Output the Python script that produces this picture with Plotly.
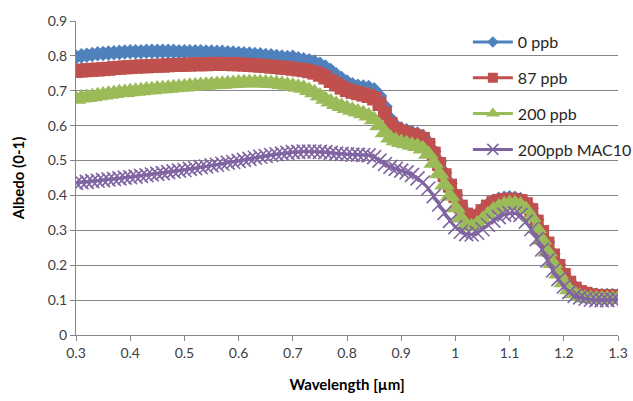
import plotly.graph_objects as go

wavelength = [round(0.30 + 0.01 * i, 2) for i in range(101)]

albedo_0ppb = [
    0.797, 0.800, 0.802, 0.804, 0.806, 0.807, 0.808, 0.809, 0.810, 0.811,
    0.812, 0.812, 0.812, 0.813, 0.813, 0.813, 0.813, 0.813, 0.813, 0.812,
    0.812, 0.812, 0.812, 0.812, 0.811, 0.811, 0.810, 0.810, 0.809, 0.808,
    0.807, 0.806, 0.805, 0.804, 0.803, 0.801, 0.800, 0.798, 0.797, 0.795,
    0.796, 0.792, 0.789, 0.786, 0.782, 0.776, 0.768, 0.758, 0.746, 0.735,
    0.725, 0.717, 0.713, 0.711, 0.709, 0.703, 0.685, 0.655, 0.620, 0.600,
    0.590, 0.585, 0.580, 0.576, 0.569, 0.552, 0.527, 0.497, 0.465, 0.434,
    0.403, 0.373, 0.350, 0.340, 0.345, 0.360, 0.373, 0.383, 0.389, 0.392,
    0.393, 0.392, 0.388, 0.379, 0.363, 0.330, 0.299, 0.266, 0.232, 0.202,
    0.176, 0.154, 0.137, 0.127, 0.120, 0.116, 0.114, 0.113, 0.113, 0.113,
    0.112,
]

albedo_87ppb = [
    0.757, 0.758, 0.759, 0.760, 0.761, 0.762, 0.763, 0.765, 0.766, 0.767,
    0.768, 0.769, 0.770, 0.770, 0.771, 0.772, 0.772, 0.773, 0.774, 0.774,
    0.775, 0.775, 0.776, 0.776, 0.776, 0.777, 0.777, 0.777, 0.777, 0.776,
    0.776, 0.775, 0.774, 0.773, 0.772, 0.771, 0.769, 0.768, 0.766, 0.765,
    0.763, 0.761, 0.759, 0.756, 0.752, 0.746, 0.738, 0.728, 0.718, 0.709,
    0.702, 0.697, 0.693, 0.689, 0.685, 0.678, 0.662, 0.635, 0.605, 0.590,
    0.583, 0.578, 0.573, 0.569, 0.562, 0.545, 0.520, 0.490, 0.458, 0.428,
    0.398, 0.368, 0.345, 0.335, 0.340, 0.355, 0.368, 0.378, 0.384, 0.387,
    0.388, 0.387, 0.384, 0.375, 0.358, 0.325, 0.295, 0.262, 0.228, 0.198,
    0.172, 0.150, 0.133, 0.123, 0.118, 0.114, 0.112, 0.111, 0.111, 0.111,
    0.110,
]

albedo_200ppb = [
    0.676, 0.679, 0.681, 0.683, 0.686, 0.688, 0.690, 0.692, 0.694, 0.695,
    0.697, 0.699, 0.700, 0.702, 0.703, 0.705, 0.706, 0.707, 0.709, 0.710,
    0.711, 0.713, 0.714, 0.715, 0.716, 0.717, 0.718, 0.719, 0.720, 0.721,
    0.722, 0.723, 0.723, 0.723, 0.723, 0.722, 0.721, 0.720, 0.718, 0.716,
    0.713, 0.710, 0.707, 0.701, 0.694, 0.685, 0.676, 0.668, 0.661, 0.655,
    0.649, 0.644, 0.639, 0.634, 0.628, 0.617, 0.600, 0.580, 0.565, 0.557,
    0.552, 0.548, 0.544, 0.540, 0.533, 0.518, 0.492, 0.462, 0.430, 0.398,
    0.365, 0.335, 0.315, 0.310, 0.318, 0.330, 0.345, 0.358, 0.367, 0.373,
    0.376, 0.376, 0.372, 0.360, 0.337, 0.305, 0.272, 0.238, 0.205, 0.175,
    0.150, 0.130, 0.118, 0.110, 0.106, 0.104, 0.103, 0.103, 0.103, 0.103,
    0.103,
]

albedo_200ppb_mac10 = [
    0.436, 0.438, 0.439, 0.441, 0.442, 0.444, 0.446, 0.447, 0.449, 0.451,
    0.452, 0.454, 0.456, 0.458, 0.460, 0.462, 0.464, 0.467, 0.469, 0.471,
    0.473, 0.476, 0.478, 0.481, 0.483, 0.486, 0.488, 0.491, 0.494, 0.496,
    0.499, 0.502, 0.505, 0.508, 0.511, 0.513, 0.516, 0.518, 0.520, 0.522,
    0.524, 0.525, 0.526, 0.526, 0.526, 0.525, 0.524, 0.522, 0.520, 0.519,
    0.518, 0.517, 0.517, 0.516, 0.515, 0.510, 0.500, 0.490, 0.482, 0.476,
    0.471, 0.466, 0.459, 0.449, 0.437, 0.420, 0.398, 0.374, 0.350, 0.327,
    0.309, 0.296, 0.289, 0.288, 0.293, 0.303, 0.316, 0.328, 0.338, 0.345,
    0.349, 0.349, 0.344, 0.325, 0.303, 0.275, 0.245, 0.214, 0.185, 0.160,
    0.139, 0.123, 0.112, 0.108, 0.104, 0.101, 0.100, 0.100, 0.100, 0.101,
    0.102,
]

series_names = ["0 ppb", "87 ppb", "200 ppb", "200ppb MAC10"]
series_values = [albedo_0ppb, albedo_87ppb, albedo_200ppb, albedo_200ppb_mac10]
series_colors = ["#4F81BD", "#C0504D", "#9BBB59", "#8064A2"]
series_symbols = ["diamond", "square", "triangle-up", "x-thin"]
plot_marker_sizes = [12, 14, 18, 14]
legend_marker_sizes = [9, 10, 12, 11]

x_ticks = [0.3, 0.4, 0.5, 0.6, 0.7, 0.8, 0.9, 1.0, 1.1, 1.2, 1.3]
x_tick_labels = ["0.3", "0.4", "0.5", "0.6", "0.7", "0.8", "0.9", "1", "1.1", "1.2", "1.3"]
y_ticks = [0, 0.1, 0.2, 0.3, 0.4, 0.5, 0.6, 0.7, 0.8, 0.9]
y_tick_labels = ["0", "0.1", "0.2", "0.3", "0.4", "0.5", "0.6", "0.7", "0.8", "0.9"]


def make_marker(sym, size, col):
    m = dict(symbol=sym, size=size, color=col)
    if sym == "x-thin":
        m["line"] = dict(width=1.6, color=col)
    else:
        m["line"] = dict(width=0, color=col)
    return m


fig = go.Figure()
for name, vals, col, sym, sz in zip(series_names, series_values, series_colors,
                                   series_symbols, plot_marker_sizes):
    fig.add_trace(go.Scatter(
        x=wavelength, y=vals, name=name, mode="lines+markers",
        line=dict(color=col, width=3), marker=make_marker(sym, sz, col),
        showlegend=False,
    ))

# legend-only entries (smaller symbols, as in the original legend)
for name, col, sym, sz in zip(series_names, series_colors, series_symbols,
                              legend_marker_sizes):
    fig.add_trace(go.Scatter(
        x=[None], y=[None], name=name, mode="lines+markers",
        line=dict(color=col, width=3), marker=make_marker(sym, sz, col),
        legendgroup=name, showlegend=True,
    ))

font_family = "Lato, 'Open Sans', 'Liberation Sans', sans-serif"
fig.update_layout(
    width=633, height=401, autosize=False,
    margin=dict(l=76, r=15, t=21, b=66, autoexpand=False),
    paper_bgcolor="white", plot_bgcolor="white",
    font=dict(family=font_family, size=14, color="#404040"),
    showlegend=True,
    legend=dict(
        x=0.723, y=0.987, xanchor="left", yanchor="top",
        bgcolor="rgba(0,0,0,0)", borderwidth=0,
        font=dict(size=16, color="#262626", family=font_family),
        tracegroupgap=12, itemwidth=40,
    ),
    xaxis=dict(
        range=[0.3, 1.3], tickvals=x_ticks, ticktext=x_tick_labels,
        showgrid=False, zeroline=False, showline=True, linecolor="#868686",
        linewidth=1, ticks="outside", ticklen=5, tickcolor="#868686",
        tickfont=dict(size=14, color="#404040"), automargin=False,
        title=dict(text="<b>Wavelength [µm]</b>", font=dict(size=15, color="#000000"),
                   standoff=19),
    ),
    yaxis=dict(
        range=[0, 0.9], tickvals=y_ticks, ticktext=y_tick_labels,
        showgrid=True, gridcolor="#868686", gridwidth=1,
        zeroline=False, showline=True, linecolor="#868686", linewidth=1,
        ticks="outside", ticklen=5, tickcolor="#868686",
        tickfont=dict(size=14, color="#404040"), automargin=False,
        title=dict(text="<b>Albedo (0-1)</b>", font=dict(size=15, color="#000000"),
                   standoff=19),
    ),
)

fig.write_html(
    "out.html",
    config={"responsive": False, "displayModeBar": False},
    post_script="document.body.style.margin='0';document.body.style.overflow='hidden';",
)
